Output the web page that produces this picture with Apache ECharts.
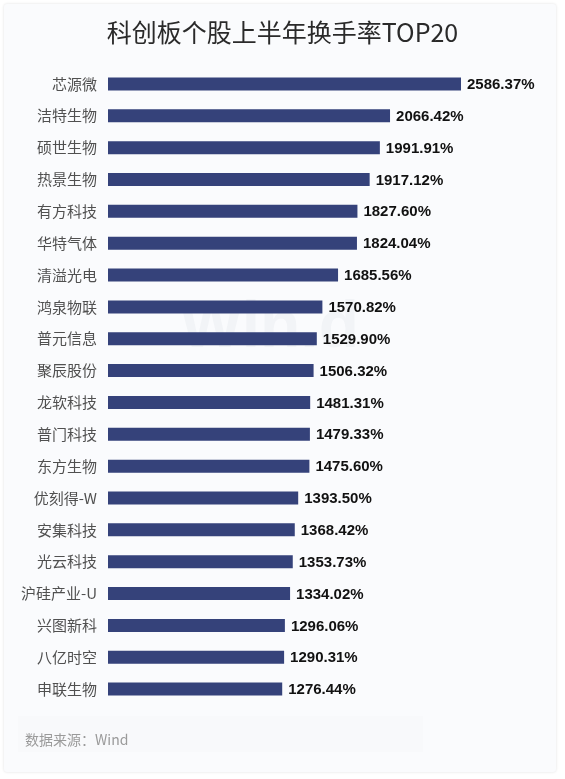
<!DOCTYPE html>
<html>
<head>
<meta charset="utf-8">
<script src="https://cdn.jsdelivr.net/npm/echarts@6/dist/echarts.min.js"></script>
<style>
  html, body { margin: 0; padding: 0; background: #ffffff; width: 565px; height: 779px; overflow: hidden; }
  #card { position: absolute; left: 4px; top: 4px; width: 552px; height: 768px; background: #fafbfd;
          border-radius: 3px; box-shadow: 0 0 3px rgba(0,0,0,0.12); }
  #chart { position: absolute; left: 0; top: 0; width: 565px; height: 779px; }
</style>
</head>
<body>
<div id="card"></div>
<div id="chart"></div>
<script>
const titleText = '科创板个股上半年换手率TOP20';
const sourceText = '数据来源：Wind';
const categories = ['芯源微','洁特生物','硕世生物','热景生物','有方科技','华特气体','清溢光电','鸿泉物联','普元信息','聚辰股份',
  '龙软科技','普门科技','东方生物','优刻得-W','安集科技','光云科技','沪硅产业-U','兴图新科','八亿时空','申联生物'];
const turnover = [2586.37,2066.42,1991.91,1917.12,1827.60,1824.04,1685.56,1570.82,1529.90,1506.32,
  1481.31,1479.33,1475.60,1393.50,1368.42,1353.73,1334.02,1296.06,1290.31,1276.44];

const chart = echarts.init(document.getElementById('chart'), null, { renderer: 'canvas' });
chart.setOption({
  backgroundColor: 'transparent',
  animation: false,
  title: {
    text: titleText, left: 'center', top: 15,
    textStyle: { fontFamily: '"Noto Sans CJK SC", "Noto Sans", sans-serif', fontSize: 25, fontWeight: 'normal', color: '#2a2a2a' }
  },
  graphic: [
    { type: 'rect', left: 18, top: 716, shape: { width: 405, height: 36 }, style: { fill: '#f8f9fb' }, z: -1 },
    { type: 'text', left: 25, top: 733, style: { text: sourceText, fill: '#9a9a9a', font: '14px "Noto Sans CJK SC", sans-serif' } },
    { type: 'text', left: 180, top: 296, style: { text: 'Win.d', fill: 'rgba(60,70,110,0.04)', font: 'bold 66px "Liberation Sans", Arial, sans-serif' }, z: 0 }
  ],
  grid: { left: 108, right: 104, top: 68, bottom: 74, containLabel: false },
  xAxis: {
    type: 'value', min: 0, max: 'dataMax', show: false
  },
  yAxis: {
    type: 'category', data: categories, inverse: true,
    axisLine: { show: false }, axisTick: { show: false }, splitLine: { show: false },
    axisLabel: { margin: 11, color: '#505050', fontSize: 15, fontFamily: '"Noto Sans CJK SC", sans-serif' }
  },
  series: [{
    type: 'bar', data: turnover, barWidth: 13,
    itemStyle: { color: '#35427a' },
    label: {
      show: true, position: 'right', distance: 6, offset: [0, 1],
      formatter: p => p.value.toFixed(2) + '%',
      color: '#111', fontSize: 15, fontWeight: 'bold', fontFamily: '"Liberation Sans", Arial, sans-serif'
    },
    z: 2
  }]
});
</script>
</body>
</html>
